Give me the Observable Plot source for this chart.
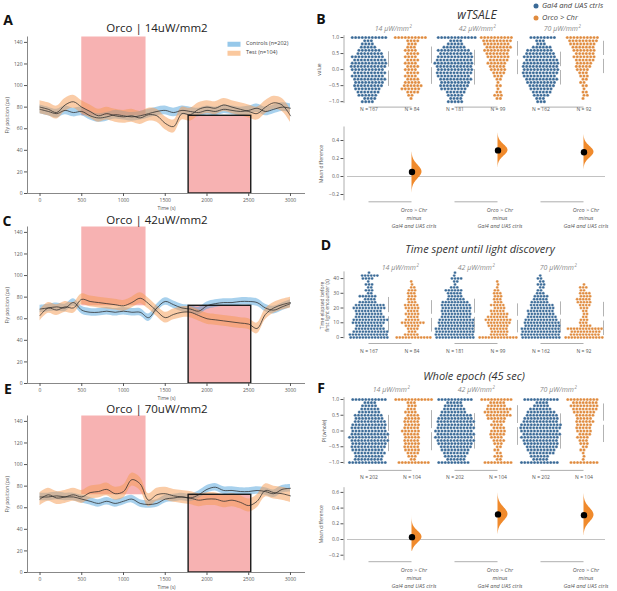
<!DOCTYPE html>
<html><head><meta charset="utf-8">
<script src="https://cdn.jsdelivr.net/npm/d3@7"></script>
<script src="https://cdn.jsdelivr.net/npm/@observablehq/plot@0.6"></script>
<style>
body{margin:0;background:#fff;}
#root{position:relative;width:617px;height:591px;overflow:hidden;font-family:"Open Sans",sans-serif;background:#fff;}
#root svg{position:absolute;}
</style></head><body><div id="root"></div>
<script>
// ---------- time series (panels A, C, E) ----------
const timeS = [0,100,200,300,400,500,600,700,800,900,1000,1100,1200,1300,1400,1500,1600,1700,1800,1900,2000,2100,2200,2300,2400,2500,2600,2700,2800,2900,3000];
const aCtrl = [78,76,74,77,75,76,72,70,71,73,72,71,72,74,76,77,75,77,76,75,77,76,78,77,76,77,79,76,78,80,79];
const aTest = [80,78,75,82,85,80,76,72,74,72,71,72,70,73,72,65,62,74,73,78,80,79,82,80,78,76,74,80,84,82,72];
const cCtrl = [69,70,71,70,75,68,66,66,67,66,67,66,66,61,70,76,73,70,69,67,72,74,75,75,76,76,75,70,68,71,74];
const cTest = [63,70,68,71,70,78,76,75,74,73,72,75,79,74,67,61,64,66,66,63,60,59,58,57,56,55,51,64,70,73,75];
const eCtrl = [70,70,71,70,70,68,66,64,66,64,66,68,64,63,64,68,69,70,69,72,77,79,76,76,75,75,76,75,73,77,78];
const eTest = [68,72,69,70,72,70,74,75,77,73,75,86,82,67,72,73,71,70,69,67,68,68,66,67,65,62,66,76,74,73,71];
const semCtrl = [4, 3.5, 3.5];
const semTest = [6, 5, 6];
const lightStart = [500, 1780];
const lightEnd = [1270, 2530];
const lightLow = [72, 0];
const lightHigh = [145, 72];
const tsTitles = ["Orco | 14uW/mm2", "Orco | 42uW/mm2", "Orco | 70uW/mm2"];
const tsXTicks = [0,500,1000,1500,2000,2500,3000];
const tsYTicks = [0,20,40,60,80,100,120,140];

// ---------- swarm panels (B, D, F) ----------
const groupKeys = ["c14","t14","c42","t42","c70","t70"];
const intensities = ["14 μW/mm²","42 μW/mm²","70 μW/mm²"];
const piLevels = [1.0,0.9,0.8,0.7,0.6,0.5,0.4,0.3,0.2,0.1,0,-0.1,-0.2,-0.3,-0.4,-0.5,-0.6,-0.7,-0.8,-0.9,-1.0];
const bCtrl14 = [11,3,4,5,7,8,10,10,11,11,10,10,10,10,9,9,8,7,6,4,4];
const bTest14 = [10,4,3,3,4,4,4,4,4,4,4,4,4,4,5,6,6,4,2,1,0];
const bCtrl42 = [12,4,5,7,10,10,11,11,12,11,11,11,10,10,9,9,8,6,5,4,5];
const bTest42 = [10,9,8,8,8,7,7,6,6,5,5,4,3,2,1,2,1,2,3,2,0];
const bCtrl70 = [8,3,3,6,8,9,10,10,11,11,11,11,10,10,9,8,7,6,5,3,3];
const bTest70 = [10,9,8,7,7,6,7,6,5,5,4,3,3,2,2,2,1,2,2,1,0];
const timeLevels = [0,2,4,6,8,10,12,14,16,18,20,22,24,26,28,30,32,34,36,38,40,42,44];
const dCtrl14 = [13,13,12,10,9,11,12,10,9,9,11,10,6,4,6,2,3,2,3,1,4,6,1];
const dTest14 = [12,5,3,4,5,8,5,4,5,4,5,5,3,3,3,3,3,2,1,1];
const dCtrl42 = [13,13,13,13,12,12,12,10,10,10,10,10,9,6,5,5,6,3,1,2,4,1,1];
const dTest42 = [13,6,6,6,7,8,9,7,6,5,4,5,3,3,3,3,2,1,1,1];
const dCtrl70 = [13,13,13,13,12,12,11,10,9,9,8,8,6,5,5,3,2,2,3,2,2,1];
const dTest70 = [13,10,10,12,4,3,3,2,2,2,3,4,5,5,4,4,2,3,1];
const fCtrl14 = [11,4,5,6,7,9,9,10,11,11,11,12,12,12,11,11,10,10,9,9,12];
const fTest14 = [12,3,3,3,4,4,5,5,5,5,6,5,5,5,5,5,5,4,3,2,10];
const fCtrl42 = [11,5,6,7,8,10,11,12,11,12,12,12,12,12,11,10,9,8,7,6,10];
const fTest42 = [10,5,6,8,8,8,6,4,4,4,5,5,4,4,3,2,2,2,3,2,9];
const fCtrl70 = [11,4,5,7,9,10,11,11,13,13,12,12,12,11,11,10,9,8,6,5,12];
const fTest70 = [10,8,9,8,7,6,5,6,5,5,5,4,4,3,3,2,2,1,1,1,9];

// ---------- mean differences (B, F) ----------
const bDiff = [0.05, 0.29, 0.27];
const bDiffLo = [-0.18, 0.10, 0.08];
const bDiffHi = [0.27, 0.48, 0.46];
const fDiff = [0.03, 0.32, 0.31];
const fDiffLo = [-0.15, 0.07, 0.05];
const fDiffHi = [0.30, 0.59, 0.58];
const diffLabel = "Orco > Chr\nminus\nGal4 and UAS ctrls";

const BLUE = "#3a6a97", ORANGE = "#e08b3e", VIOLIN = "#f08a2c";
const FONT = "'Open Sans', sans-serif";
const root = document.getElementById("root");

function put(node, x, y) { node.style.left = x + "px"; node.style.top = y + "px"; root.appendChild(node); return node; }
function label(html, x, y, css) {
  const d = document.createElement("div");
  d.innerHTML = html;
  Object.assign(d.style, {position: "absolute", left: x + "px", top: y + "px", transform: "translate(-50%,-50%)", whiteSpace: "nowrap", lineHeight: "1"}, css || {});
  root.appendChild(d);
  return d;
}

function tsPanel(ctrl, test, semC, semT) {
  const rows = timeS.map((t, i) => ({t, c: ctrl[i], s: test[i]}));
  const lights = lightStart.map((s, i) => ({x1: s, x2: lightEnd[i], y1: lightLow[i], y2: lightHigh[i]}));
  return Plot.plot({
    width: 310, height: 212, marginLeft: 27, marginRight: 5, marginTop: 36.5, marginBottom: 19,
    style: {fontFamily: FONT, color: "#555", background: "transparent", overflow: "visible"},
    x: {domain: [-150, 3180]}, y: {domain: [0, 145]},
    marks: [
      Plot.rect(lights, {x1: "x1", x2: "x2", y1: "y1", y2: "y2", fill: "#f7b2b2"}),
      Plot.areaY(rows, {x: "t", y1: d => d.c - semC, y2: d => d.c + semC, fill: "#3f9ad8", fillOpacity: 0.45, curve: "catmull-rom"}),
      Plot.areaY(rows, {x: "t", y1: d => d.s - semT, y2: d => d.s + semT, fill: "#f59a4f", fillOpacity: 0.5, curve: "catmull-rom"}),
      Plot.lineY(rows, {x: "t", y: "c", stroke: "#2a2a2a", strokeWidth: 0.75, curve: "catmull-rom"}),
      Plot.lineY(rows, {x: "t", y: "s", stroke: "#2a2a2a", strokeWidth: 0.75, curve: "catmull-rom"}),
      Plot.rect(lights.slice(1), {x1: "x1", x2: "x2", y1: "y1", y2: "y2", fill: "none", stroke: "#1a1a1a", strokeWidth: 1.4}),
      Plot.ruleY([0], {stroke: "#888"}),
      Plot.ruleX([-150], {stroke: "#888"}),
      Plot.axisX({ticks: tsXTicks, tickFormat: d3.format("d"), tickSize: 3, tickPadding: 2, fontSize: 5, label: "Time (s)", labelAnchor: "center", labelOffset: 16, labelArrow: "none"}),
      Plot.axisY({ticks: tsYTicks, tickSize: 3, tickPadding: 2, fontSize: 5, label: "Fly position (px)", labelAnchor: "center", labelOffset: 22, labelArrow: "none"})
    ]
  });
}

function swarmPanel(o) {
  const pts = [], stats = [];
  groupKeys.forEach((k, gi) => {
    const vals = [];
    o.counts[gi].forEach((n, li) => { for (let j = 0; j < n; j++) { pts.push({g: k, v: o.levels[li]}); vals.push(o.levels[li]); } });
    stats.push({g: k, m: d3.mean(vals), s: d3.deviation(vals), n: vals.length});
  });
  const nText = Object.fromEntries(stats.map(s => [s.g, "N = " + s.n]));
  const yb = o.yDomain[0];
  return Plot.plot({
    width: 307, height: o.height, marginLeft: 36.5, marginRight: 12.5, marginTop: o.mt, marginBottom: o.mb,
    style: {fontFamily: FONT, color: "#555", background: "transparent", overflow: "visible"},
    fx: {domain: groupKeys, padding: 0},
    x: {domain: [-21.5, 21.5], axis: null},
    y: {domain: o.yDomain},
    marks: [
      Plot.axisFx({anchor: "bottom", tickSize: 0, tickPadding: o.nPad, fontSize: 5, tickFormat: k => nText[k], label: null}),
      Plot.axisY({ticks: o.ticks, tickFormat: o.fmt, tickSize: 3, tickPadding: 2, fontSize: 5, dx: -3.5, label: o.ylabel, labelAnchor: "center", labelOffset: o.labelOffset, labelArrow: "none"}),
      Plot.ruleX([{g: groupKeys[0]}], {fx: "g", x: () => -25, y1: () => o.yDomain[0], y2: () => o.yDomain[1], stroke: "#999", strokeWidth: 0.8}),
      Plot.ruleX(stats, {fx: "g", x: () => 19.5, y1: d => d.m - d.s, y2: d => d.m - o.gap, stroke: "#aaa", strokeWidth: 0.9}),
      Plot.ruleX(stats, {fx: "g", x: () => 19.5, y1: d => d.m + o.gap, y2: d => d.m + d.s, stroke: "#aaa", strokeWidth: 0.9}),
      Plot.ruleY(stats.filter(s => s.g[0] === "t"), {fx: "g", y: () => yb, x1: () => -43, x2: () => 0, dy: o.brDy, stroke: "#999", strokeWidth: 0.8}),
      Plot.dot(pts.filter(p => p.g[0] === "c"), Plot.dodgeX({anchor: "middle", padding: 0.15}, {fx: "g", y: "v", r: o.r, fill: BLUE, stroke: "#fff", strokeWidth: 0.3})),
      Plot.dot(pts.filter(p => p.g[0] === "t"), Plot.dodgeX({anchor: "middle", padding: 0.15}, {fx: "g", y: "v", r: o.r, fill: ORANGE, stroke: "#fff", strokeWidth: 0.3}))
    ]
  });
}

function diffPanel(o) {
  const tKeys = ["t14", "t42", "t70"];
  const md = tKeys.map((k, i) => ({g: k, m: o.md[i], lo: o.lo[i], hi: o.hi[i]}));
  const vio = [];
  md.forEach(d => {
    const sd = (d.hi - d.lo) / 6;
    for (let i = 0; i <= 60; i++) { const y = d.lo + (d.hi - d.lo) * i / 60; vio.push({g: d.g, y, w: 10 * Math.exp(-0.5 * ((y - d.m) / sd) ** 2)}); }
  });
  const yb = o.yDomain[0];
  return Plot.plot({
    width: 307, height: o.height, marginLeft: 36.5, marginRight: 12.5, marginTop: o.mt, marginBottom: o.mb,
    style: {fontFamily: FONT, color: "#555", background: "transparent", overflow: "visible"},
    fx: {domain: groupKeys, padding: 0, axis: null},
    x: {domain: [-21.5, 21.5], axis: null},
    y: {domain: o.yDomain},
    marks: [
      Plot.axisY({ticks: o.ticks, tickFormat: d3.format(".1f"), tickSize: 3, tickPadding: 2, fontSize: 5, dx: -3.5, label: "Mean difference", labelAnchor: "center", labelOffset: o.labelOffset, labelArrow: "none"}),
      Plot.ruleX([{g: groupKeys[0]}], {fx: "g", x: () => -25, y1: () => o.yDomain[0], y2: () => o.yDomain[1], stroke: "#999", strokeWidth: 0.8}),
      Plot.ruleY([0], {stroke: "#bbb", strokeWidth: 0.9}),
      Plot.ruleY(["c14", "c42", "c70"].map(g => ({g})), {fx: "g", y: () => yb, x1: () => 0, x2: () => 43, dy: 1, stroke: "#999", strokeWidth: 0.8}),
      Plot.areaX(vio, {fx: "g", y: "y", x1: () => 0, x2: "w", fill: VIOLIN, curve: "basis"}),
      Plot.dot(md, {fx: "g", x: () => 0, y: "m", r: 3.2, fill: "#000"}),
      Plot.text(md, {fx: "g", x: () => 2, y: () => yb, text: () => diffLabel, lineAnchor: "top", dy: 6, fontSize: 5.5, fontStyle: "italic", fill: "#555", lineHeight: 1.45})
    ]
  });
}

// left column
const tsTops = [0, 190, 379];
const tsData = [[aCtrl, aTest], [cCtrl, cTest], [eCtrl, eTest]];
tsData.forEach((d, i) => put(tsPanel(d[0], d[1], semCtrl[i], semTest[i]), 0, tsTops[i]));
const tsTitleY = [28, 219.5, 409];
tsTitles.forEach((t, i) => label(t, 157, tsTitleY[i], {fontSize: "11.5px", color: "#222"}));
[["A", 8, 20], ["C", 7, 221], ["E", 8, 389]].forEach(([t, x, y]) => label(t, x, y, {fontSize: "14px", fontWeight: "bold", color: "#111"}));
// legend A
label("", 234, 44, {width: "13px", height: "4.5px", background: "rgba(63,154,216,0.55)"});
label("", 234, 53, {width: "13px", height: "4.5px", background: "rgba(245,154,79,0.55)"});
label("Controls (n=202)", 246, 44, {fontSize: "5.5px", color: "#444", transform: "translate(0,-50%)"});
label("Test (n=104)", 246, 53, {fontSize: "5.5px", color: "#444", transform: "translate(0,-50%)"});

// right column
put(swarmPanel({levels: piLevels, counts: [bCtrl14, bTest14, bCtrl42, bTest42, bCtrl70, bTest70], yDomain: [-1.06, 1.06], ticks: [-1, -0.5, 0, 0.5, 1], fmt: d3.format(".1f"), height: 118, mt: 35.1, mb: 14.9, r: 1.6, gap: 0.06, ylabel: "value", labelOffset: 30, nPad: 4, brDy: 3.5}), 310, 0);
put(diffPanel({md: bDiff, lo: bDiffLo, hi: bDiffHi, yDomain: [-0.27, 0.55], ticks: [-0.2, 0, 0.2, 0.4], height: 125, mt: 16.5, mb: 34.7, labelOffset: 28}), 310, 110);
put(swarmPanel({levels: timeLevels, counts: [dCtrl14, dTest14, dCtrl42, dTest42, dCtrl70, dTest70], yDomain: [-1, 44.5], ticks: [0, 10, 20, 30, 40], fmt: d3.format("d"), height: 135, mt: 46.4, mb: 21.5, r: 1.45, gap: 1.4, ylabel: "Time elapsed before\nfirst light encounter (s)", labelOffset: 27, nPad: 10, brDy: 4.5}), 310, 225);
put(swarmPanel({levels: piLevels, counts: [fCtrl14, fTest14, fCtrl42, fTest42, fCtrl70, fTest70], yDomain: [-1.06, 1.06], ticks: [-1, -0.5, 0, 0.5, 1], fmt: d3.format(".1f"), height: 120, mt: 37.1, mb: 16.1, r: 1.55, gap: 0.065, ylabel: "PI (whole)", labelOffset: 25, nPad: 11.5, brDy: 6}), 310, 360);
put(diffPanel({md: fDiff, lo: fDiffLo, hi: fDiffHi, yDomain: [-0.27, 0.66], ticks: [-0.2, 0, 0.2, 0.4, 0.6], height: 116, mt: 12.2, mb: 30.8, labelOffset: 28}), 310, 475);

[["B", 321, 18.5], ["D", 326, 245], ["F", 321, 388]].forEach(([t, x, y]) => label(t, x, y, {fontSize: "14px", fontWeight: "bold", color: "#111"}));
label("wTSALE", 477, 15, {fontSize: "12px", fontStyle: "italic", color: "#333"});
label("Time spent until light discovery", 480, 248, {fontSize: "11px", fontStyle: "italic", color: "#333"});
label("Whole epoch (45 sec)", 474, 375, {fontSize: "11px", fontStyle: "italic", color: "#333"});
const subX = [[393, 477, 562], [400, 476, 558], [391, 476, 558]];
const subY = [28, 267, 389];
subY.forEach((y, r) => intensities.forEach((t, i) => label(t, subX[r][i], y, {fontSize: "7px", fontStyle: "italic", color: "#8a8a8a"})));
// legend B
label("", 536, 6, {width: "5px", height: "5px", borderRadius: "50%", background: BLUE});
label("", 536, 18, {width: "5px", height: "5px", borderRadius: "50%", background: ORANGE});
label("Gal4 and UAS ctrls", 542, 6, {fontSize: "7.5px", fontStyle: "italic", color: "#444", transform: "translate(0,-50%)"});
label("Orco &gt; Chr", 542, 18, {fontSize: "7.5px", fontStyle: "italic", color: "#444", transform: "translate(0,-50%)"});
</script></body></html>
